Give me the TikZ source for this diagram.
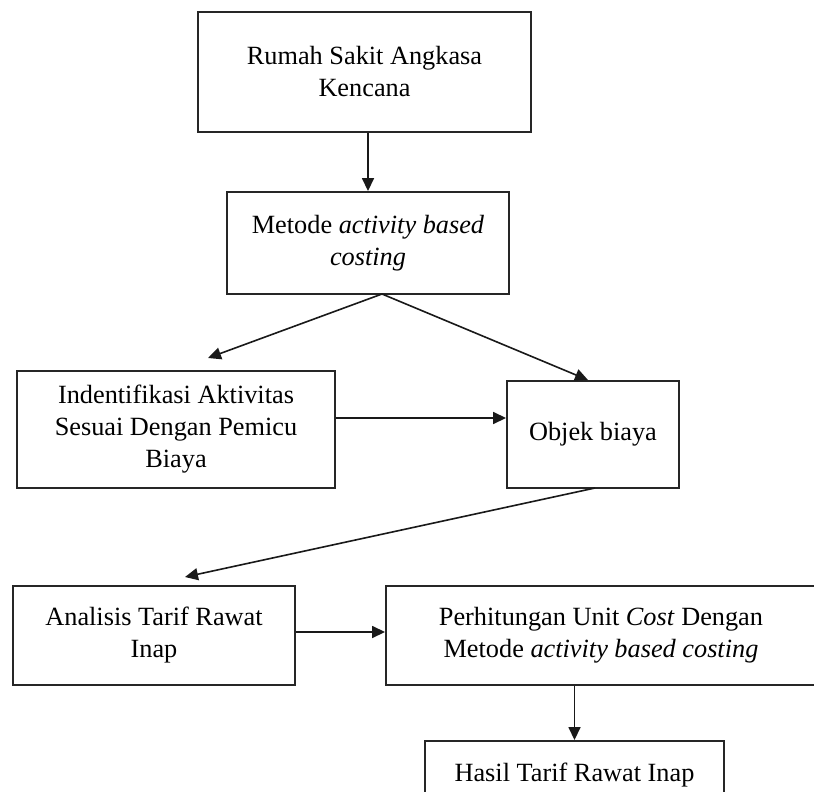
\documentclass[tikz,border=0pt]{standalone}
\usepackage{fontspec}
\setmainfont{Liberation Serif}
\usetikzlibrary{arrows.meta}
\begin{document}
\begin{tikzpicture}[x=0.5pt,y=-0.5pt,
  box/.style={draw=black!85, line width=0.95pt, rectangle, inner sep=0pt, align=center,
    font=\fontsize{13.15pt}{16pt}\selectfont},
  arr/.style={draw=black!90, line width=0.8pt, -{Triangle[length=6.5pt,width=6pt]}}]
\useasboundingbox (0,0) rectangle (814,792);
\clip (0,0) rectangle (814,792);
\fill[white] (0,0) rectangle (814,792);
% boxes
\node[box, minimum width=166.5pt, minimum height=60pt] (b1) at (364.5,72) {Rumah Sakit Angkasa\\Kencana};
\node[box, minimum width=141pt, minimum height=51pt] (b2) at (368,243) {Metode \textit{activity based}\\\textit{costing}};
\node[box, minimum width=159pt, minimum height=58.5pt] (b3) at (176,429.5) {Indentifikasi Aktivitas\\Sesuai Dengan Pemicu\\Biaya};
\node[box, minimum width=86pt, minimum height=53.5pt] (b4) at (593,434.5) {Objek biaya};
\node[box, minimum width=141pt, minimum height=49.5pt] (b5) at (154,635.5) {Analisis Tarif Rawat\\Inap};
\node[box, minimum width=215pt, minimum height=49.5pt] (b6) at (601,635.5) {Perhitungan Unit \textit{Cost} Dengan\\Metode \textit{activity based costing}};
\node[box, minimum width=149.5pt, minimum height=34pt] (b7) at (574.5,775) {Hasil Tarif Rawat Inap};
% helper coordinates
\coordinate (s2) at (382,294);
\coordinate (t3) at (208,358);
\coordinate (t4) at (588,380);
\coordinate (s4) at (595,488);
\coordinate (t5) at (185,577);
\coordinate (h1) at (0,418);
\coordinate (h2) at (0,632);
% connectors
\draw[arr] (b1.south -| b2.north) -- (b2.north);
\draw[arr] (s2) -- (t3);
\draw[arr] (s2) -- (t4);
\draw[arr] (b3.east |- h1) -- (b4.west |- h1);
\draw[arr] (s4) -- (t5);
\draw[arr] (b5.east |- h2) -- (b6.west |- h2);
\draw[arr] (b7.north |- b6.south) -- (b7.north);
\end{tikzpicture}
\end{document}
